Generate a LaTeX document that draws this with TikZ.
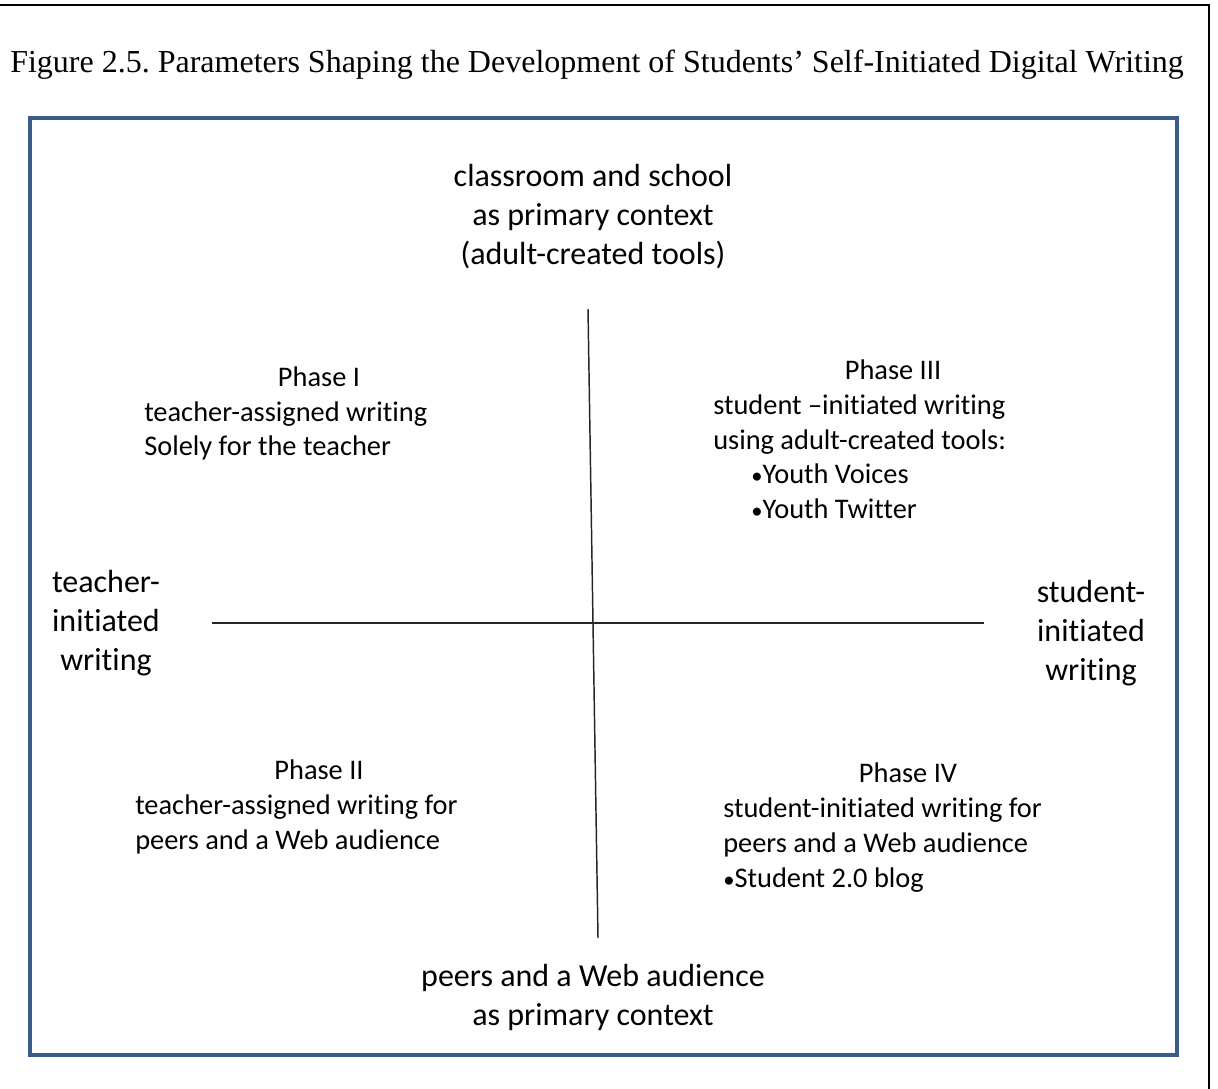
\documentclass[tikz,border=0pt]{standalone}
\usepackage{fontspec}
\setmainfont{Carlito}[Ligatures=NoCommon]
\newfontfamily\titlefont{Liberation Serif}
\definecolor{boxblue}{RGB}{56,93,138}
\newcommand{\bul}{{\fontsize{17}{17}\selectfont •}}
\frenchspacing
\begin{document}
\begin{tikzpicture}[x=0.75pt,y=-0.75pt,
  axislbl/.style={font=\fontsize{24}{29}\selectfont, inner sep=0pt, anchor=mid},
  qtext/.style={font=\fontsize{21.3}{25}\selectfont, inner sep=0pt, anchor=mid west},
  qctr/.style={font=\fontsize{21.3}{25}\selectfont, inner sep=0pt, anchor=mid},
  axisline/.style={line width=1.1pt, black!85}]
\useasboundingbox (0,0) rectangle (1218,1089);
\fill[white] (0,0) rectangle (1218,1089);
% outer frame (top and right visible)
\draw[line width=1.5pt] (0,5) -- (1209,5) -- (1209,1089);
% title
\node[inner sep=0pt, anchor=mid west, font=\titlefont\fontsize{24}{28}\selectfont] (title) at (10,69)
  {Figure 2.5. Parameters Shaping the Development of Students’ Self-Initiated Digital Writing};
% blue box
\draw[boxblue, line width=2.3pt] (30,118) rectangle (1177,1055);
% axes
\coordinate (vtop) at (588,309);
\coordinate (vbot) at (598,938);
\coordinate (hleft) at (212,623);
\coordinate (hright) at (984,623);
\draw[axisline] (vtop) -- (vbot);
\draw[axisline] (hleft) -- (hright);
% top label
\node[axislbl] (t1) at (593,183) {classroom and school};
\node[axislbl] (t2) at (593,222) {as primary context};
\node[axislbl] (t3) at (593,261) {(adult-created tools)};
% bottom label
\node[axislbl] (b1) at (593,983) {peers and a Web audience};
\node[axislbl] (b2) at (593,1022) {as primary context};
% left label
\node[axislbl] (l1) at (106,589) {teacher-};
\node[axislbl] (l2) at (106,628) {initiated};
\node[axislbl] (l3) at (106,667) {writing};
% right label
\node[axislbl] (r1) at (1091,599) {student-};
\node[axislbl] (r2) at (1091,638) {initiated};
\node[axislbl] (r3) at (1091,677) {writing};
% Phase I
\node[qctr] (p1a) at (319,383) {Phase I};
\node[qtext] (p1b) at (144,418) {teacher-assigned writing};
\node[qtext] (p1c) at (144,452) {Solely for the teacher};
% Phase III
\node[qctr] (p3a) at (893,376) {Phase III};
\node[qtext] (p3b) at (713,411) {student –initiated writing};
\node[qtext] (p3c) at (713,446) {using adult-created tools:};
\node[qtext] (p3d) at (751,480) {\bul Youth Voices};
\node[qtext] (p3e) at (751,515) {\bul Youth Twitter};
% Phase II
\node[qctr] (p2a) at (319,776) {Phase II};
\node[qtext] (p2b) at (135,811) {teacher-assigned writing for};
\node[qtext] (p2c) at (135,846) {peers and a Web audience};
% Phase IV
\node[qctr] (p4a) at (908,779) {Phase IV};
\node[qtext] (p4b) at (723,814) {student-initiated writing for};
\node[qtext] (p4c) at (723,849) {peers and a Web audience};
\node[qtext] (p4d) at (723,884) {\bul Student 2.0 blog};
\end{tikzpicture}
\end{document}
